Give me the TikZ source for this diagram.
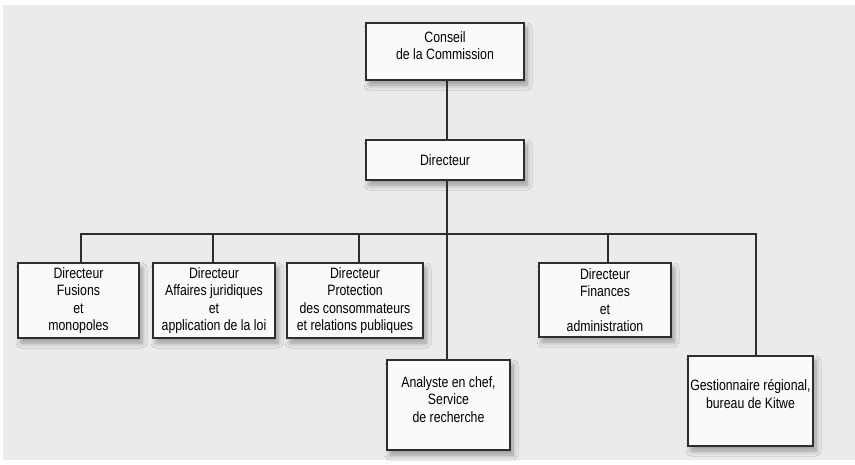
\documentclass[tikz,border=0pt]{standalone}
\usepackage{fontspec}
\setmainfont{Liberation Sans}[FakeStretch=0.82]
\usetikzlibrary{shadows.blur}
\definecolor{bggray}{HTML}{EBEBEB}
\definecolor{boxfill}{HTML}{FAFAFA}
\definecolor{linec}{HTML}{2E2E2E}
\tikzset{
  orgbox/.style={draw=linec, line width=1.8pt, fill=boxfill, inner sep=0pt,
    align=center, font=\fontsize{15}{17.5}\selectfont,
    blur shadow={shadow xshift=3pt, shadow yshift=-5pt, shadow blur steps=8, shadow blur radius=5pt, shadow opacity=35}},
  conn/.style={draw=linec, line width=1.8pt}
}
\begin{document}
\begin{tikzpicture}[x=1pt,y=-1pt]
\useasboundingbox (0,0) rectangle (855,464);
\fill[white] (0,0) rectangle (855,464);
\fill[bggray] (3,5) rectangle (855,460);
% top nodes
\node[orgbox, minimum width=158pt, minimum height=57pt] (cons) at (445,51.5) {\begin{tabular}{@{}c@{}}Conseil\\de la Commission\\[8pt]\end{tabular}};
\node[orgbox, minimum width=158pt, minimum height=40pt] (dir) at (445,160) {Directeur};
% row boxes
\node[orgbox, minimum width=121pt, minimum height=75pt] (fus) at (78.5,300.5) {Directeur\\Fusions\\et\\monopoles};
\node[orgbox, minimum width=122pt, minimum height=75pt] (aff) at (214,300.5) {Directeur\\Affaires juridiques\\et\\application de la loi};
\node[orgbox, minimum width=136pt, minimum height=75pt] (pro) at (355,300.5) {Directeur\\Protection\\des consommateurs\\et relations publiques};
\node[orgbox, minimum width=132pt, minimum height=74pt] (fin) at (605,300) {Directeur\\Finances\\et\\administration};
\node[orgbox, minimum width=123pt, minimum height=90pt] (ana) at (448.5,405) {\begin{tabular}{@{}c@{}}Analyste en chef,\\Service\\de recherche\\[8pt]\end{tabular}};
\node[orgbox, minimum width=125pt, minimum height=90pt] (ges) at (750.5,401) {\begin{tabular}{@{}c@{}}Gestionnaire régional,\\bureau de Kitwe\\[10pt]\end{tabular}};
% bus
\coordinate (busL) at (81,234);
\coordinate (busR) at (756,234);
% connectors
\draw[conn] ([xshift=2pt]cons.south) -- ([xshift=2pt]dir.north);
\draw[conn] ([xshift=2pt]dir.south) -- ([xshift=2pt]dir.south |- ana.north);
\draw[conn] ([xshift=2.5pt]fus.north) -- (busL) -- (busR) -- ([xshift=5.5pt]ges.north);
\draw[conn] ([xshift=-1pt]aff.north) -- ([xshift=-1pt]aff.north |- busL);
\draw[conn] ([xshift=4pt]pro.north) -- ([xshift=4pt]pro.north |- busL);
\draw[conn] ([xshift=3pt]fin.north) -- ([xshift=3pt]fin.north |- busL);
\end{tikzpicture}
\end{document}
